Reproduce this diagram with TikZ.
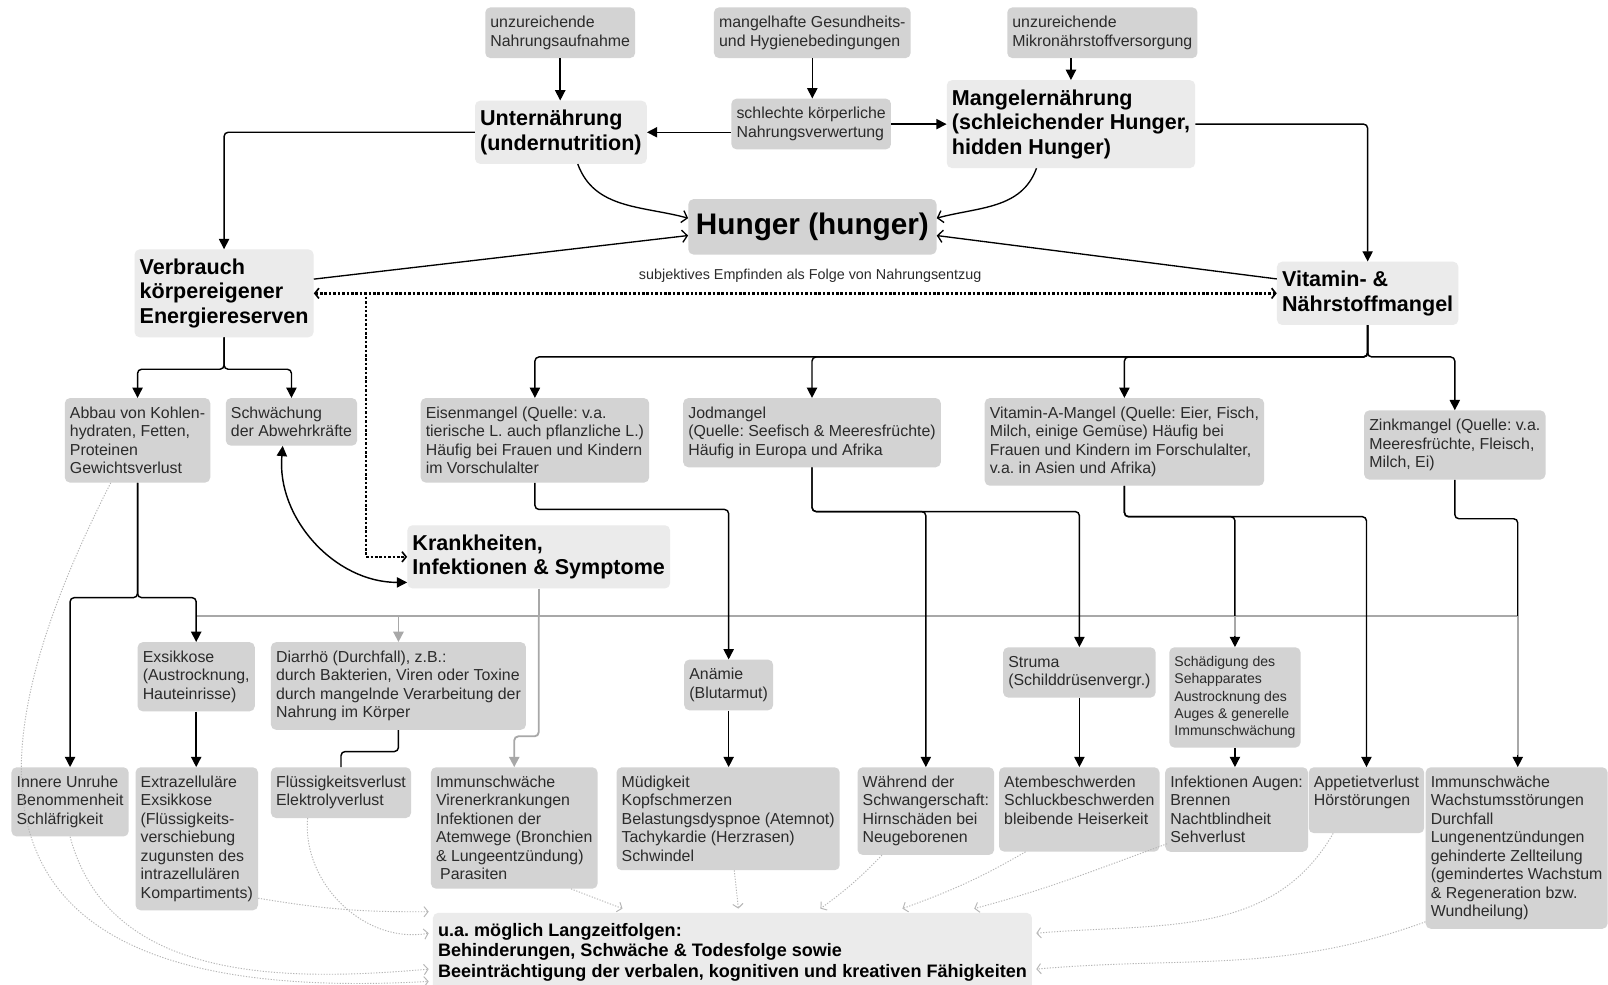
\documentclass[tikz,border=0pt]{standalone}
\usepackage{fontspec}
\setmainfont{Liberation Sans}
\usetikzlibrary{arrows.meta,calc}

\definecolor{boxgrey}{HTML}{D3D3D3}
\definecolor{headgrey}{HTML}{EBEBEB}
\definecolor{lgrey}{HTML}{A8A8A8}
\definecolor{fgrey}{HTML}{B5B5B5}
\definecolor{textgrey}{HTML}{2B2B2B}

\tikzset{
  box/.style={anchor=north west, align=left, fill=boxgrey, rounded corners=5pt,
    inner xsep=5pt, inner ysep=8.5pt, text=textgrey, font=\fontsize{15.5}{18}\selectfont},
  tinybox/.style={box, font=\fontsize{13.7}{17}\selectfont},
  head/.style={box, fill=headgrey, text=black, inner ysep=9pt,
    font=\bfseries\fontsize{21}{24}\selectfont},
  arr/.style={line width=1.4pt, rounded corners=4pt, -{Triangle[length=10pt,width=10pt]}},
  arrboth/.style={line width=1.4pt, {Triangle[length=10pt,width=10pt]}-{Triangle[length=10pt,width=10pt]}},
  conn/.style={line width=1.4pt, rounded corners=4pt},
  open/.style={line width=1.3pt, -{Straight Barb[length=5pt,width=12pt]}},
  dotline/.style={line width=2.6pt, dash pattern=on 2.5pt off 1.8pt},
  greyline/.style={draw=lgrey, line width=1.8pt},
  greyarr/.style={greyline, rounded corners=4pt, -{Triangle[length=10pt,width=10pt]}},
  faint/.style={draw=fgrey, line width=0.9pt, dash pattern=on 1.2pt off 1.5pt,
    -{Straight Barb[length=4pt,width=10pt]}}
}

\begin{document}
\frenchspacing
\begin{tikzpicture}[x=1pt,y=1pt]
\useasboundingbox (0,0) rectangle (1568,-960);
\fill[white] (0,0) rectangle (1568,-960);

% Ursachen
\node[box] (aufnahme) at (473,-7) {unzureichende\\Nahrungsaufnahme};
\node[box] (hygiene) at (696,-7) {mangelhafte Gesundheits-\\und Hygienebedingungen};
\node[box] (mikro) at (982,-7) {unzureichende\\Mikronährstoffversorgung};
\node[head] (unter) at (463,-98) {Unternährung\\(undernutrition)};
\node[box] (verwert) at (713,-96) {schlechte körperliche\\Nahrungsverwertung};
\node[head] (mangel) at (923,-78) {Mangelernährung\\(schleichender Hunger,\\hidden Hunger)};
\node[anchor=north west, fill=boxgrey, rounded corners=5pt, minimum width=242pt, minimum height=54pt,
  font=\bfseries\fontsize{29}{32}\selectfont] (hunger) at (671,-194) {Hunger (hunger)};
\node[head] (verbrauch) at (131,-243) {Verbrauch\\körpereigener\\Energiereserven};
\node[head] (vitamin) at (1245,-255) {Vitamin- \&\\Nährstoffmangel};
\node[text=textgrey, font=\fontsize{14}{16}\selectfont] (empfinden) at (790,-269)
  {subjektives Empfinden als Folge von Nahrungsentzug};

% Mangelzustaende
\node[box] (abbau) at (63,-388) {Abbau von Kohlen-\\hydraten, Fetten,\\Proteinen\\Gewichtsverlust};
\node[box] (abwehr) at (220,-388) {Schwächung\\der Abwehrkräfte};
\node[box] (eisen) at (410,-388) {Eisenmangel (Quelle: v.a.\\tierische L. auch pflanzliche L.)\\Häufig bei Frauen und Kindern\\im Vorschulalter};
\node[box] (jod) at (666,-388) {Jodmangel\\(Quelle: Seefisch \& Meeresfrüchte)\\Häufig in Europa und Afrika};
\node[box] (vita) at (960,-388) {Vitamin-A-Mangel (Quelle: Eier, Fisch,\\Milch, einige Gemüse) Häufig bei\\Frauen und Kindern im Forschulalter,\\v.a. in Asien und Afrika)};
\node[box] (zink) at (1330,-400) {Zinkmangel (Quelle: v.a.\\Meeresfrüchte, Fleisch,\\Milch, Ei)};
\node[head] (krank) at (397,-512) {Krankheiten,\\Infektionen \& Symptome};

% Folgen
\node[box] (exsikkose) at (134,-626) {Exsikkose\\(Austrocknung,\\Hauteinrisse)};
\node[box] (diarrho) at (264,-626) {Diarrhö (Durchfall), z.B.:\\durch Bakterien, Viren oder Toxine\\durch mangelnde Verarbeitung der\\Nahrung im Körper};
\node[box] (anaemie) at (667,-643) {Anämie\\(Blutarmut)};
\node[box] (struma) at (978,-631) {Struma\\(Schilddrüsenvergr.)};
\node[tinybox] (seh) at (1140,-631) {Schädigung des\\Sehapparates\\Austrocknung des\\Auges \& generelle\\Immunschwächung};

\node[box] (unruhe) at (11,-748) {Innere Unruhe\\Benommenheit\\Schläfrigkeit};
\node[box] (extra) at (132,-748) {Extrazelluläre\\Exsikkose\\(Flüssigkeits-\\verschiebung\\zugunsten des\\intrazellulären\\Kompartiments)};
\node[box] (fluessig) at (264,-748) {Flüssigkeitsverlust\\Elektrolyverlust};
\node[box] (immun) at (420,-748) {Immunschwäche\\Virenerkrankungen\\Infektionen der\\Atemwege (Bronchien\\\& Lungeentzündung)\\\hspace*{4pt}Parasiten};
\node[box] (muedig) at (601,-748) {Müdigkeit\\Kopfschmerzen\\Belastungsdyspnoe (Atemnot)\\Tachykardie (Herzrasen)\\Schwindel};
\node[box] (schwanger) at (836,-748) {Während der\\Schwangerschaft:\\Hirnschäden bei\\Neugeborenen};
\node[box] (atem) at (974,-748) {Atembeschwerden\\Schluckbeschwerden\\bleibende Heiserkeit\\\mbox{}};
\node[box] (augen) at (1136,-748) {Infektionen Augen:\\Brennen\\Nachtblindheit\\Sehverlust};
\node[box] (appetit) at (1276,-748) {Appetietverlust\\Hörstörungen\\\mbox{}};
\node[box] (immun2) at (1390,-748) {Immunschwäche\\Wachstumsstörungen\\Durchfall\\Lungenentzündungen\\gehinderte Zellteilung\\(gemindertes Wachstum\\\& Regeneration bzw.\\Wundheilung)};
\node[head, font=\bfseries\fontsize{17.6}{20}\selectfont, inner ysep=10pt] (folgen) at (422,-890)
  {u.a. möglich Langzeitfolgen:\\Behinderungen, Schwäche \& Todesfolge sowie\\Beeinträchtigung der verbalen, kognitiven und kreativen Fähigkeiten};

% oben
\draw[arr] (aufnahme.south) -- (aufnahme.south |- unter.north);
\draw[arr] (hygiene.south) -- (hygiene.south |- verwert.north);
\draw[arr] (mikro.south -| mangel.north) -- (mangel.north);
\draw[arr] (verwert.west |- unter.east) -- (unter.east);
\draw[arr] (verwert.east |- mangel.west) -- (mangel.west);
\draw[arr] (unter.west) -| (verbrauch.north);
\draw[arr] (mangel.east) -| (vitamin.north);

% Hunger
\draw[open] (unter.-62) to[out=-70, in=165] (hunger.176);
\draw[open] (verbrauch.9) -- (hunger.184);
\draw[open] (mangel.232) to[out=-110, in=15] (hunger.4);
\draw[open] (vitamin.171) -- (hunger.-4);

\coordinate (knick) at (357,-285);
\draw[dotline, {Straight Barb[length=4pt,width=10pt,line width=1.6pt]}-{Straight Barb[length=4pt,width=10pt,line width=1.6pt]}]
  (verbrauch.east) -- (verbrauch.east -| vitamin.west);
\draw[dotline, -{Straight Barb[length=4pt,width=10pt,line width=1.6pt]}] (knick) |- (krank.west);

% Verbrauch und Vitamin
\draw[arr] (verbrauch.south) -- ++(0,-31) -| (abbau.north);
\draw[arr] (verbrauch.south) -- ++(0,-31) -| (abwehr.north);
\draw[arrboth] (abwehr.-110) to[out=-95, in=180] (krank.191);
\foreach \n in {eisen,jod,vita,zink}
  \draw[arr] (vitamin.south) -- ++(0,-31) -| (\n.north);

% Krankheiten (grau)
\coordinate (gl) at (191,-601);
\coordinate (gr) at (1480,-601);
\draw[greyline] (krank.south) -- (krank.south |- gl);
\draw[greyline] (gl) -- (gr);
\draw[greyarr] (diarrho.north |- gl) -- (diarrho.north);
\draw[greyarr] (krank.south |- gl) -- ++(0,-117) -| (immun.north);

% Ketten
\draw[arr] (abbau.south) -- ++(0,-112) -| (unruhe.north);
\draw[arr] (abbau.south) -- ++(0,-112) -| (exsikkose.north);
\draw[arr] (exsikkose.south) -- (exsikkose.south |- extra.north);
\draw[conn] (diarrho.south) -- ++(0,-21) -| (fluessig.north);
\draw[arr] (eisen.south) -- ++(0,-26) -| (anaemie.north);
\draw[arr] (anaemie.south) -- (anaemie.south |- muedig.north);
\draw[arr] (jod.south) -- ++(0,-43) -| (struma.north);
\draw[arr] (jod.south) -- ++(0,-43) -| (schwanger.north);
\draw[arr] (struma.south) -- (struma.south |- atem.north);
\draw[arr] (vita.south) -- ++(0,-30) -| (seh.north);
\draw[arr] (vita.south) -- ++(0,-30) -| (appetit.north);
\draw[arr] (seh.south) -- (seh.south |- augen.north);
\draw[arr] (zink.south) -- ++(0,-38) -| ($(immun2.north west)+(90,0)$);
\draw[greyline] (seh.north |- gl) -- ++(0,-19);
\draw[greyline] (gr) -- ++(0,-135);

% Langzeitfolgen
\draw[faint] ($(extra.south east)+(0,12)$) to[bend right=5] ($(folgen.north west)+(-4,1)$);
\draw[faint] ($(fluessig.south west)+(36,0)$) to[out=-95, in=190] ($(folgen.north west)+(-4,-20)$);
\draw[faint] (unruhe.south) to[out=-75, in=185] ($(folgen.north west)+(-4,-55)$);
\draw[faint] ($(abbau.south west)+(45,0)$) .. controls (-60,-800) and (0,-980) .. ($(folgen.north west)+(-4,-67)$);
\draw[faint] (immun.-47) -- ($(folgen.north west)+(185,4)$);
\draw[faint] ($(muedig.south)+(6,0)$) -- ($(folgen.north west)+(298,4)$);
\draw[faint] ($(schwanger.south west)+(24,0)$) to[bend left=5] ($(folgen.north west)+(378,4)$);
\draw[faint] ($(atem.south west)+(26,0)$) to[out=-150, in=20] ($(folgen.north west)+(458,4)$);
\draw[faint] ($(augen.south west)+(2,8)$) to[out=-160, in=15] ($(folgen.north west)+(528,4)$);
\draw[faint] ($(appetit.south west)+(24,0)$) to[out=-120, in=5] ($(folgen.north east)+(4,-20)$);
\draw[faint] ($(immun2.south west)+(0,7)$) to[out=-160, in=5] ($(folgen.north east)+(4,-55)$);
\end{tikzpicture}
\end{document}
